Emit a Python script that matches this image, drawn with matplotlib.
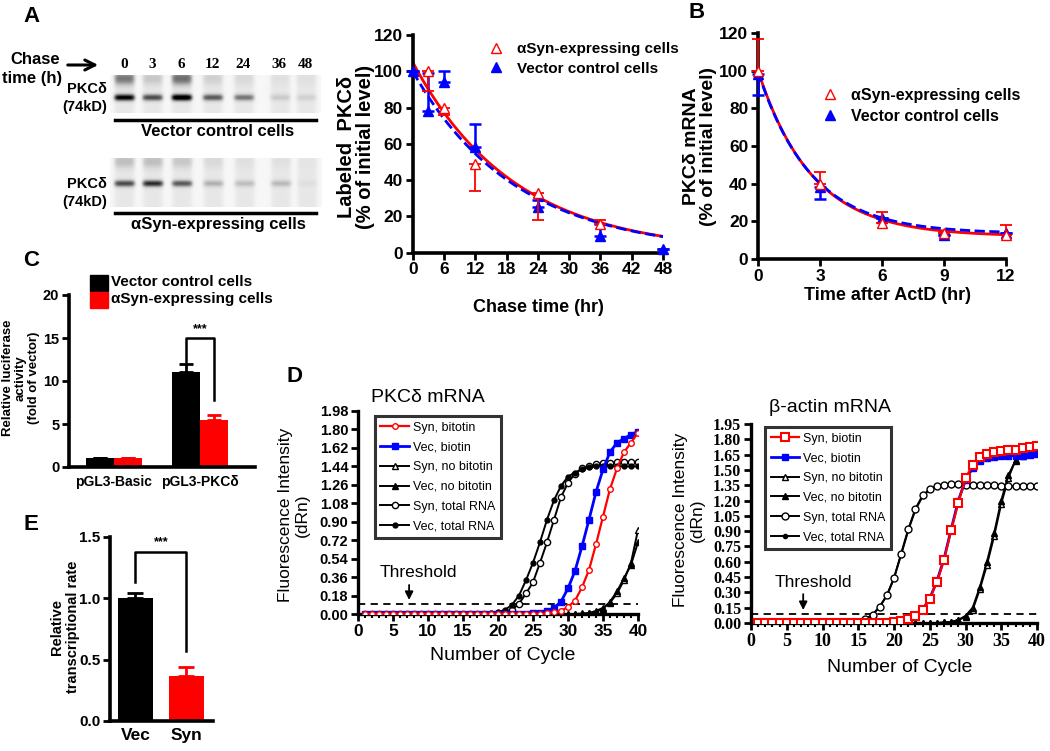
import numpy as np
import matplotlib
matplotlib.use('Agg')
import matplotlib.pyplot as plt
from matplotlib.lines import Line2D
from matplotlib.patches import Rectangle, FancyArrowPatch

plt.rcParams['font.family'] = ['Liberation Sans', 'DejaVu Sans']
plt.rcParams['font.weight'] = 'bold'

# ---------------- DATA ----------------
lane_labels = ['0', '3', '6', '12', '24', '36', '48']
vec_band = [0.85, 0.60, 0.95, 0.55, 0.45, 0.15, 0.12]
vec_smear = [0.55, 0.20, 0.60, 0.15, 0.10, 0.05, 0.05]
syn_band = [0.60, 0.70, 0.55, 0.25, 0.20, 0.22, 0.05]
syn_smear = [0.25, 0.25, 0.20, 0.10, 0.05, 0.05, 0.02]

# Panel A (pulse-chase)
a_syn_t = [3, 6, 12, 24, 36]
a_syn_y = [100, 80, 49, 33, 16]
a_syn_lo = [11, 4, 15, 15, 0]
a_syn_hi = [0, 0, 0, 0, 2]
a_vec_t = [0, 3, 6, 12, 24, 36, 48]
a_vec_y = [100, 78, 94, 58, 25, 9, 2]
a_vec_lo = [0, 0, 0, 0, 0, 0, 0]
a_vec_hi = [0, 21, 6, 13, 4, 7, 0]
a_syn_fit = (105.0, 0.0512, 0.0)   # Y0, k, plateau
a_vec_fit = (100.0, 0.0505, 0.0)

# Panel B (mRNA decay)
b_t = [0, 3, 6, 9, 12]
b_syn_y = [100, 40, 19, 14, 13]
b_syn_hi = [17, 6, 6, 0, 5]
b_vec_y = [98, 38, 22, 13, 14]
b_vec_lo = [11, 6, 0, 0, 0]
b_syn_fit = (88.0, 0.382, 12.0)
b_vec_fit = (86.0, 0.390, 13.5)

# Panel C (luciferase)
c_groups = ['pGL3-Basic', 'pGL3-PKCδ']
c_vec = [1.0, 11.0]
c_vec_err = [0.0, 1.0]
c_syn = [1.0, 5.5]
c_syn_err = [0.0, 0.5]

# Panel E (transcriptional rate)
e_groups = ['Vec', 'Syn']
e_vals = [1.0, 0.37]
e_err = [0.04, 0.07]

# Panel D (qPCR amplification curves), cycles 1..40
cycles = list(range(1, 41))
pk_syn_biotin = [0.0]*26 + [0.005, 0.015, 0.03, 0.07, 0.13, 0.26, 0.43, 0.68, 0.95, 1.22, 1.42, 1.58, 1.67, 1.77]
pk_vec_biotin = [0.0]*24 + [0.005, 0.01, 0.03, 0.06, 0.12, 0.25, 0.42, 0.66, 0.92, 1.19, 1.41, 1.58, 1.67, 1.71, 1.75, 1.78]
pk_syn_nobiotin = [0.0]*31 + [0.005, 0.01, 0.03, 0.06, 0.11, 0.20, 0.33, 0.50, 0.82]
pk_vec_nobiotin = [0.0]*32 + [0.005, 0.02, 0.05, 0.12, 0.22, 0.35, 0.48, 0.70]
pk_syn_total = [0.0]*19 + [0.01, 0.02, 0.04, 0.10, 0.20, 0.31, 0.50, 0.70, 0.92, 1.14, 1.28, 1.37, 1.42, 1.44, 1.46, 1.47, 1.47, 1.48, 1.48, 1.48, 1.48]
pk_vec_total = [0.0]*18 + [0.01, 0.02, 0.04, 0.09, 0.18, 0.33, 0.50, 0.70, 0.92, 1.11, 1.25, 1.34, 1.38, 1.41, 1.43, 1.44, 1.44, 1.44, 1.44, 1.44, 1.44, 1.44]

ba_syn_biotin = [0.0]*19 + [0.01, 0.02, 0.04, 0.07, 0.13, 0.24, 0.40, 0.62, 0.91, 1.18, 1.42, 1.55, 1.63, 1.66, 1.68, 1.69, 1.70, 1.70, 1.71, 1.72, 1.73]
ba_vec_biotin = [0.0]*19 + [0.01, 0.02, 0.04, 0.07, 0.13, 0.24, 0.41, 0.63, 0.92, 1.20, 1.40, 1.52, 1.59, 1.62, 1.63, 1.64, 1.64, 1.64, 1.64, 1.65, 1.66]
ba_syn_nobiotin = [0.0]*26 + [0.005, 0.01, 0.03, 0.06, 0.13, 0.33, 0.57, 0.85, 1.17, 1.42, 1.60, 1.66, 1.69, 1.71]
ba_vec_nobiotin = [0.0]*26 + [0.005, 0.01, 0.03, 0.07, 0.15, 0.35, 0.60, 0.88, 1.20, 1.45, 1.59, 1.64, 1.66, 1.68]
ba_syn_total = [0.0]*14 + [0.01, 0.04, 0.08, 0.16, 0.27, 0.44, 0.68, 0.92, 1.12, 1.25, 1.31, 1.34, 1.35, 1.36, 1.36, 1.35, 1.35, 1.35, 1.35, 1.35, 1.34, 1.34, 1.34, 1.34, 1.34, 1.34]
ba_vec_total = [0.0]*14 + [0.01, 0.04, 0.08, 0.16, 0.27, 0.44, 0.67, 0.91, 1.11, 1.24, 1.31, 1.34, 1.35, 1.35, 1.35, 1.35, 1.35, 1.35, 1.35, 1.34, 1.34, 1.34, 1.34, 1.34, 1.34, 1.34]
pk_threshold = 0.095
ba_threshold = 0.085

# ---------------- FIGURE ----------------
W, H = 1050, 751
fig = plt.figure(figsize=(10.5, 7.51), dpi=100)

def ax_px(l, t, r, b):
    return fig.add_axes([l / W, 1 - b / H, (r - l) / W, (b - t) / H])

def txt(x, y, s, **kw):
    kw.setdefault('ha', 'center')
    kw.setdefault('va', 'center')
    fig.text(x / W, 1 - y / H, s, **kw)

def hline_px(x0, x1, y, lw=2.5):
    fig.add_artist(Line2D([x0 / W, x1 / W], [1 - y / H, 1 - y / H], color='black', lw=lw,
                          transform=fig.transFigure))

def prism(ax, lw=2.6, size=12, family='Liberation Sans'):
    for s in ['top', 'right']:
        ax.spines[s].set_visible(False)
    for s in ['left', 'bottom']:
        ax.spines[s].set_linewidth(lw)
    ax.tick_params(width=2, length=5, labelsize=size, direction='out', pad=2)
    for lab in ax.get_xticklabels() + ax.get_yticklabels():
        lab.set_fontweight('bold')
        lab.set_family(family)

# Panel letters
for letter, x, y in [('A', 31, 16), ('B', 697, 12), ('C', 31, 260), ('D', 294, 377), ('E', 31, 525)]:
    txt(x, y, letter, fontsize=16, fontweight='bold')

# ---- Blots ----
lane_x = [14, 42, 71, 102, 133, 169, 195]

def blot(ax, bands, smear, width, height, band_row):
    xs = np.arange(width)[None, :]
    ys = np.arange(height)[:, None]
    img = np.full((height, width), 0.07)
    for cx, b, sm in zip(lane_x, bands, smear):
        lane = np.exp(-((xs - cx) / 10.5) ** 6)
        img += b * lane * np.exp(-((ys - band_row) / 3.4) ** 2)
        img += sm * lane * np.exp(-((ys - 3) / 7.0) ** 2) * 0.8
        img += 0.10 * lane
    ax.imshow(np.clip(img, 0, 1), cmap='Greys', vmin=0, vmax=1.0, aspect='auto',
              interpolation='bilinear')
    ax.set_axis_off()

axb1 = ax_px(110, 75, 320, 113)
blot(axb1, vec_band, vec_smear, 210, 38, 22)
axb2 = ax_px(110, 158, 322, 207)
blot(axb2, syn_band, syn_smear, 210, 49, 25)

lane_px = [124, 152, 181, 212, 243, 279, 305]
for lx, lab in zip(lane_px, lane_labels):
    txt(lx, 65, lab, fontsize=11, fontweight='bold', family='Liberation Serif')
txt(35, 59, 'Chase', fontsize=12, fontweight='bold')
txt(32, 78, 'time (h)', fontsize=12, fontweight='bold')
fig.add_artist(FancyArrowPatch((65 / W, 1 - 65 / H), (101 / W, 1 - 65 / H),
               transform=fig.transFigure, arrowstyle='->', mutation_scale=18, lw=2.2, color='black'))
txt(107, 89, 'PKCδ', fontsize=10.5, fontweight='bold', ha='right')
txt(107, 107, '(74kD)', fontsize=10.5, fontweight='bold', ha='right')
txt(107, 184, 'PKCδ', fontsize=10.5, fontweight='bold', ha='right')
txt(107, 202, '(74kD)', fontsize=10.5, fontweight='bold', ha='right')
hline_px(115, 316, 120)
txt(218, 132, 'Vector control cells', fontsize=12, fontweight='bold')
hline_px(115, 316, 213)
txt(218, 224, 'αSyn-expressing cells', fontsize=12, fontweight='bold')

# ---- Panel A chart ----
axA = ax_px(412.7, 35, 663, 252.7)
tt = np.linspace(0, 48, 200)
y0, k, p = a_syn_fit
axA.plot(tt, y0 * np.exp(-k * tt) + p, color='red', lw=2)
y0, k, p = a_vec_fit
axA.plot(tt, y0 * np.exp(-k * tt) + p, color='blue', lw=2, ls='--')
axA.errorbar(a_vec_t, a_vec_y, yerr=[a_vec_lo, a_vec_hi], fmt='^', color='blue', ms=7,
             capsize=4, elinewidth=1.8, capthick=1.8, clip_on=False, zorder=4)
axA.errorbar(a_syn_t, a_syn_y, yerr=[a_syn_lo, a_syn_hi], fmt='^', color='red', mfc='white',
             mec='red', ms=7, capsize=4, elinewidth=1.3, capthick=1.3, clip_on=False, zorder=5)
axA.set_xlim(0, 48)
axA.set_ylim(0, 120)
axA.set_xticks(range(0, 49, 6))
axA.set_yticks(range(0, 121, 20))
prism(axA, size=12.5)
hA = [Line2D([], [], marker='^', ls='', color='red', mfc='white', ms=7),
      Line2D([], [], marker='^', ls='', color='blue', ms=7)]
axA.legend(hA, ['αSyn-expressing cells', 'Vector control cells'], loc='upper left',
           bbox_to_anchor=(0.24, 1.03), frameon=False, fontsize=11, handlelength=1.2,
           handletextpad=0.8, labelspacing=0.35)
txt(356, 147, 'Labeled  PKCδ\n(% of initial level)', rotation=90, fontsize=14.5,
    fontweight='bold', linespacing=1.05)
txt(538, 308, 'Chase time (hr)', fontsize=13, fontweight='bold')

# ---- Panel B ----
axB = ax_px(758, 33, 1006, 259)
tt = np.linspace(0, 12, 200)
y0, k, p = b_syn_fit
axB.plot(tt, y0 * np.exp(-k * tt) + p, color='red', lw=2)
y0, k, p = b_vec_fit
axB.plot(tt, y0 * np.exp(-k * tt) + p, color='blue', lw=2, ls='--')
axB.errorbar(b_t, b_vec_y, yerr=[b_vec_lo, [0] * 5], fmt='^', color='blue', ms=7,
             capsize=4, elinewidth=1.8, capthick=1.8, clip_on=False, zorder=4)
axB.errorbar(b_t, b_syn_y, yerr=[[0] * 5, b_syn_hi], fmt='^', color='red', mfc='white',
             mec='red', ms=7, capsize=4, elinewidth=1.3, capthick=1.3, clip_on=False, zorder=5)
axB.set_xlim(0, 12)
axB.set_ylim(0, 120)
axB.set_xticks(range(0, 13, 3))
axB.set_yticks(range(0, 121, 20))
prism(axB, size=12.5)
axB.legend(hA, ['αSyn-expressing cells', 'Vector control cells'], loc='upper left',
           bbox_to_anchor=(0.2, 0.82), frameon=False, fontsize=11.5, handlelength=1.0,
           handletextpad=0.8, labelspacing=0.35)
txt(700, 146, 'PKCδ mRNA\n(% of initial level)', rotation=90, fontsize=14,
    fontweight='bold', linespacing=1.05)
txt(887, 295, 'Time after ActD (hr)', fontsize=13, fontweight='bold')

# ---- Panel C ----
axC = ax_px(69, 295, 255, 467)
xg = np.arange(len(c_groups))
bw = 0.326
axC.bar(xg - bw / 2, c_vec, bw, color='black', yerr=[[0, 0], c_vec_err], capsize=5,
        error_kw=dict(elinewidth=2, capthick=2, ecolor='black'))
axC.bar(xg + bw / 2, c_syn, bw, color='red', yerr=[[0, 0], c_syn_err], capsize=5,
        error_kw=dict(elinewidth=2, capthick=2, ecolor='red'))
axC.set_xlim(-0.523, 1.64)
axC.set_ylim(0, 20)
axC.set_xticks(xg)
axC.set_xticklabels(c_groups)
axC.set_yticks([0, 5, 10, 15, 20])
prism(axC, size=10.5)
axC.tick_params(axis='x', length=0, pad=6, labelsize=10)
xl, xr = 1 - bw / 2, 1 + bw / 2
axC.plot([xl, xl, xr, xr], [12.2, 15.0, 15.0, 7.8], color='black', lw=1.8)
axC.text(1, 15.3, '***', ha='center', va='bottom', fontsize=9)
fig.add_artist(Rectangle((90 / W, 1 - 291 / H), 18 / W, 16 / H, color='black', transform=fig.transFigure))
fig.add_artist(Rectangle((90 / W, 1 - 308 / H), 18 / W, 16 / H, color='red', transform=fig.transFigure))
txt(111, 282, 'Vector control cells', fontsize=11, fontweight='bold', ha='left')
txt(111, 299, 'αSyn-expressing cells', fontsize=11, fontweight='bold', ha='left')
txt(21, 378, 'Relative luciferase\nactivity\n(fold of vector)', rotation=90, fontsize=9.5,
    fontweight='bold', linespacing=1.1)

# ---- Panel E ----
axE = ax_px(110, 537, 213, 721)
xe = np.arange(len(e_groups))
axE.bar(xe, e_vals, 0.69, color=['black', 'red'])
axE.errorbar([0], [e_vals[0]], yerr=[[0], [e_err[0]]], fmt='none', ecolor='black', capsize=6,
             elinewidth=2, capthick=2)
axE.errorbar([1], [e_vals[1]], yerr=[[0], [e_err[1]]], fmt='none', ecolor='red', capsize=6,
             elinewidth=2, capthick=2)
axE.set_xlim(-0.5, 1.52)
axE.set_ylim(0, 1.5)
axE.set_xticks(xe)
axE.set_xticklabels(e_groups)
axE.set_yticks([0.0, 0.5, 1.0, 1.5])
axE.set_yticklabels(['0.0', '0.5', '1.0', '1.5'])
prism(axE, size=11)
axE.tick_params(axis='x', length=0, pad=5, labelsize=12.5)
axE.plot([0, 0, 1, 1], [1.13, 1.38, 1.38, 0.57], color='black', lw=1.8)
axE.text(0.5, 1.41, '***', ha='center', va='bottom', fontsize=9)
txt(65, 627, 'Relative\ntranscriptional rate', rotation=90, fontsize=10.5,
    fontweight='bold', linespacing=1.1)

# ---- Panel D ----
def qpcr(ax, series, order, ymax, ystep, thr, serif, legloc, thr_text, arrow):
    for y, kw in series:
        ax.plot(cycles, y, **kw)
    ax.axhline(thr, color='black', ls='--', lw=1.3, dashes=(4, 3), zorder=1)
    ax.set_xlim(0, 40)
    ax.set_ylim(0, ymax)
    ax.set_xticks(range(0, 41, 5))
    ax.set_xticks(range(0, 41), minor=True)
    yt = np.round(np.arange(0, ymax + 1e-6, ystep), 2)
    ax.set_yticks(yt)
    ax.set_yticklabels([f'{v:.2f}' for v in yt])
    fam = 'Liberation Serif' if serif else 'Liberation Sans'
    prism(ax, lw=2.4, size=11.5 if serif else 10.5, family=fam)
    ax.tick_params(axis='x', labelsize=13 if serif else 12.5)
    ax.tick_params(which='minor', length=3, width=1.5)
    h, l = ax.get_legend_handles_labels()
    leg = ax.legend([h[i] for i in order], [l[i] for i in order], loc='upper left',
                    bbox_to_anchor=legloc, frameon=True, fancybox=False, edgecolor='black',
                    handlelength=2.3, labelspacing=0.62, borderaxespad=0, borderpad=0.45,
                    handletextpad=0.3, prop=dict(family='Liberation Sans', size=9, weight='normal'))
    leg.get_frame().set_linewidth(2.2)
    ax.text(thr_text[0], thr_text[1], 'Threshold', ha='center', va='center', fontsize=12.5,
            fontweight='normal')
    ax.annotate('', xy=(arrow[0], arrow[2]), xytext=(arrow[0], arrow[1]),
                arrowprops=dict(arrowstyle='-|>', color='black', lw=1.3, mutation_scale=12))

kblack = dict(color='black', lw=1.4)
axD1 = ax_px(358, 411, 638, 614)
qpcr(axD1, [
    (pk_syn_nobiotin, dict(marker='^', ms=4.5, mfc='white', label='Syn, no bitotin', zorder=2, **kblack)),
    (pk_vec_nobiotin, dict(marker='^', ms=4.5, label='Vec, no bitotin', zorder=2, **kblack)),
    (pk_syn_total, dict(marker='o', ms=4.5, mfc='white', label='Syn, total RNA', zorder=2, **kblack)),
    (pk_vec_total, dict(marker='o', ms=3.5, label='Vec, total RNA', zorder=2, **kblack)),
    (pk_vec_biotin, dict(color='blue', lw=2, marker='s', ms=5, label='Vec, biotin', zorder=3)),
    (pk_syn_biotin, dict(color='red', lw=1.6, marker='o', ms=4, mfc='white', label='Syn, bitotin', zorder=4)),
], [5, 4, 0, 1, 2, 3], 1.98, 0.18, pk_threshold, False, (0.06, 0.975),
    (8.6, 0.40), (7.3, 0.31, 0.11))
txt(428, 398, 'PKCδ mRNA', fontsize=14, fontweight='normal')
txt(503, 655, 'Number of Cycle', fontsize=14, fontweight='normal')
txt(294, 515, 'Fluorescence Intensity\n(dRn)', rotation=90, fontsize=12.5, fontweight='normal',
    linespacing=1.1)

axD2 = ax_px(751, 424, 1037, 623)
qpcr(axD2, [
    (ba_syn_nobiotin, dict(marker='^', ms=4.5, mfc='white', label='Syn, no bitotin', zorder=2, **kblack)),
    (ba_vec_nobiotin, dict(marker='^', ms=4, label='Vec, no bitotin', zorder=2, **kblack)),
    (ba_vec_total, dict(marker='o', ms=3, label='Vec, total RNA', zorder=2, **kblack)),
    (ba_syn_total, dict(marker='o', ms=5, mfc='white', label='Syn, total RNA', zorder=2, **kblack)),
    (ba_vec_biotin, dict(color='blue', lw=2, marker='s', ms=5, label='Vec, biotin', zorder=3)),
    (ba_syn_biotin, dict(color='red', lw=1.6, marker='s', ms=6, mfc='white', mew=1.5, label='Syn, biotin', zorder=4)),
], [5, 4, 0, 1, 3, 2], 1.95, 0.15, ba_threshold, True, (0.049, 0.985),
    (8.7, 0.40), (7.3, 0.31, 0.10))
txt(830, 408, 'β-actin mRNA', fontsize=14, fontweight='normal')
txt(900, 668, 'Number of Cycle', fontsize=14, fontweight='normal')
txt(689, 520, 'Fluorescence Intensity\n(dRn)', rotation=90, fontsize=12.5, fontweight='normal',
    linespacing=1.1)

fig.savefig('out.png', dpi=100)
